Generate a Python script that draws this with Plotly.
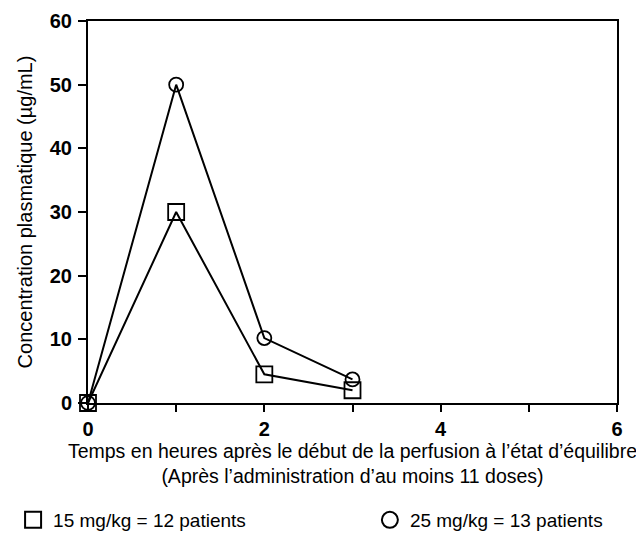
import plotly.graph_objects as go

hours = [0, 1, 2, 3]
conc_15 = [0, 30, 4.5, 2.0]
conc_25 = [0, 50, 10.2, 3.7]
label_15 = "15 mg/kg = 12 patients"
label_25 = "25 mg/kg = 13 patients"
x_title = "Temps en heures après le début de la perfusion à l’état d’équilibre<br>(Après l’administration d’au moins 11 doses)"
y_title = "Concentration plasmatique (µg/mL)"
x_ticks = [0, 2, 4, 6]
y_ticks = [0, 10, 20, 30, 40, 50, 60]

FONT = "Liberation Sans, Arial, sans-serif"
fig = go.Figure()

fig.add_trace(go.Scatter(x=hours, y=conc_15, mode="lines+markers",
                         line=dict(color="black", width=2),
                         marker=dict(symbol="square-open", size=16, color="black", line=dict(width=1.8)),
                         cliponaxis=False, showlegend=False))
fig.add_trace(go.Scatter(x=hours, y=conc_25, mode="lines+markers",
                         line=dict(color="black", width=2),
                         marker=dict(symbol="circle-open", size=14, color="black", line=dict(width=1.8)),
                         cliponaxis=False, showlegend=False))
# legend entries
fig.add_trace(go.Scatter(x=[None], y=[None], mode="markers", name=label_15, legend="legend",
                         marker=dict(symbol="square-open", size=17, color="black", line=dict(width=2))))
fig.add_trace(go.Scatter(x=[None], y=[None], mode="markers", name=label_25, legend="legend2",
                         marker=dict(symbol="circle-open", size=17, color="black", line=dict(width=2))))

leg_common = dict(orientation="h", xref="container", yref="container", yanchor="middle",
                  xanchor="left", font=dict(size=19), bgcolor="rgba(0,0,0,0)", itemsizing="trace")

# page has an 8px body margin, so the figure is 636x527
fig.update_layout(
    width=636, height=527,
    margin=dict(l=80, r=27, t=13, b=132),
    paper_bgcolor="white", plot_bgcolor="white",
    font=dict(family=FONT, color="black", size=18),
    legend=dict(x=0.008, y=0.0285, **leg_common),
    legend2=dict(x=0.569, y=0.0285, **leg_common),
)
fig.update_xaxes(range=[0, 6], tickvals=x_ticks, ticks="outside", ticklen=7, tickwidth=2,
                 tickcolor="black", showline=True, linewidth=2, linecolor="black", mirror=True,
                 showgrid=False, zeroline=False, automargin=False,
                 minor=dict(dtick=1, ticks="outside", ticklen=7, tickwidth=2, tickcolor="black", showgrid=False),
                 tickfont=dict(size=20, family="Liberation Sans, Arial", weight="bold"),
                 title=dict(text=x_title, font=dict(size=19.5), standoff=3))
fig.update_yaxes(range=[0, 60], tickvals=y_ticks, ticks="outside", ticklen=8, tickwidth=2,
                 tickcolor="black", showline=True, linewidth=2, linecolor="black", mirror=True,
                 showgrid=False, zeroline=False, automargin=False, ticklabelstandoff=2,
                 tickfont=dict(size=20, family="Liberation Sans, Arial", weight="bold"),
                 title=dict(text=y_title, font=dict(size=20), standoff=12))

fig.write_html("out.html")
